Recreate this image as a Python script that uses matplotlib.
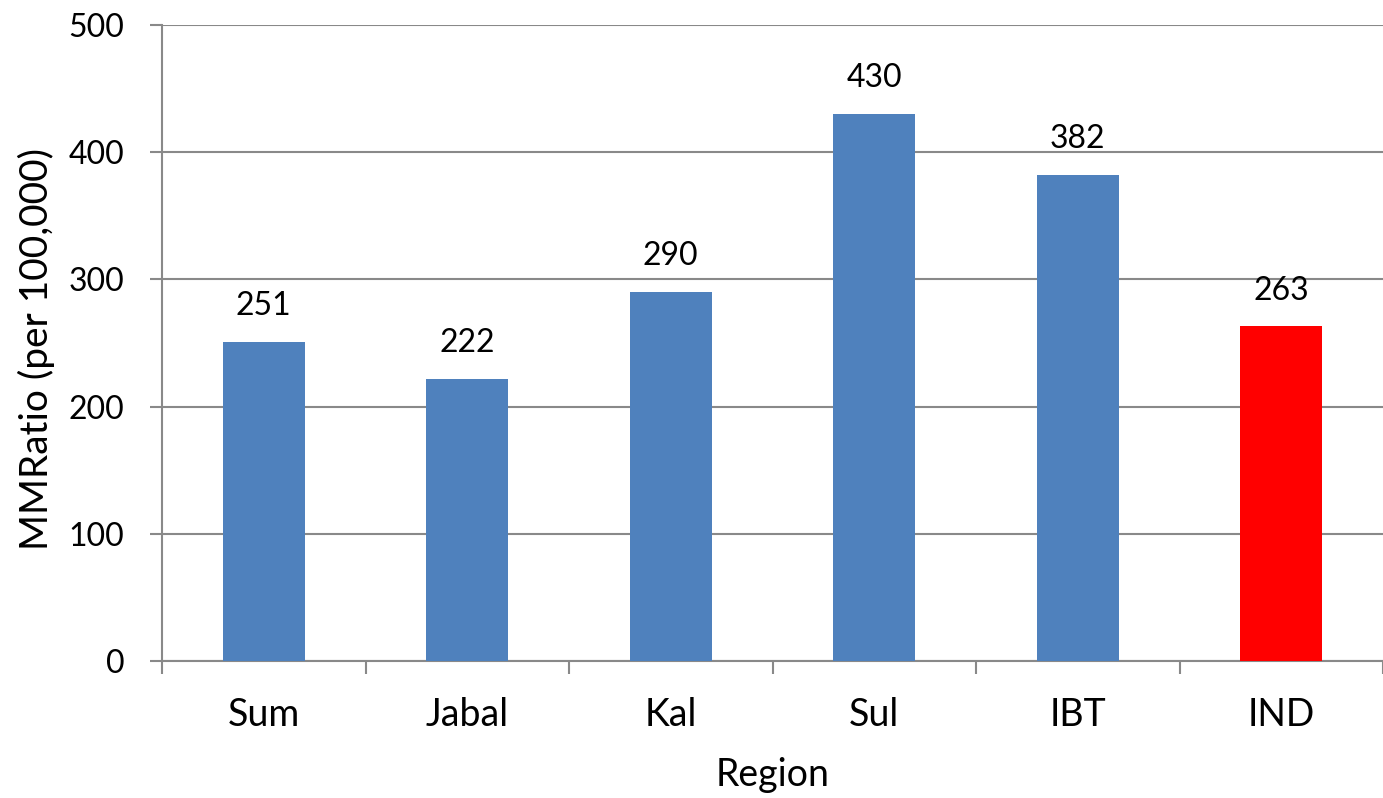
import numpy as np
import matplotlib.pyplot as plt

regions = ['Sum', 'Jabal', 'Kal', 'Sul', 'IBT', 'IND']
mmr = [251, 222, 290, 430, 382, 263]
colors = ['#4F81BD'] * 5 + ['#FF0000']

plt.rcParams['font.family'] = ['Lato', 'DejaVu Sans']
gray = '#898989'

fig = plt.figure(figsize=(13.83, 7.98), dpi=100)
ax = fig.add_axes([0.11714, 0.17168, 0.88286, 0.79699])

x = np.arange(len(regions))
bars = ax.bar(x, mmr, width=0.403, color=colors, zorder=3)

# value labels above the bars
for xi, v in zip(x, mmr):
    ax.annotate(str(v), (xi, v), xytext=(0, 15), textcoords='offset points',
                ha='center', va='bottom', fontsize=23)

ax.set_ylim(0, 500)
ax.set_xlim(-0.5, 5.4707)
ax.set_yticks(range(0, 501, 100))
ax.set_xticks(x)
ax.set_xticklabels(regions)
ax.set_xticks(np.arange(-0.5, 6, 1), minor=True)

ax.yaxis.grid(True, color=gray, linewidth=1.5, zorder=0)
ax.set_axisbelow(True)
for s in ['top', 'right']:
    ax.spines[s].set_visible(False)
for s in ['left', 'bottom']:
    ax.spines[s].set_color(gray)
    ax.spines[s].set_linewidth(1.5)

ax.tick_params(axis='y', length=9, width=1.5, color=gray, labelsize=23, pad=18)
ax.tick_params(axis='x', which='major', length=0, labelsize=27, pad=26)
ax.tick_params(axis='x', which='minor', length=9, width=1.5, color=gray)

ax.set_ylabel('MMRatio (per 100,000)', fontsize=28)
ax.yaxis.set_label_coords(-0.088, 0.49)
ax.set_xlabel('Region', fontsize=27)
ax.xaxis.set_label_coords(0.5, -0.151)

plt.savefig('out.png', dpi=100)
